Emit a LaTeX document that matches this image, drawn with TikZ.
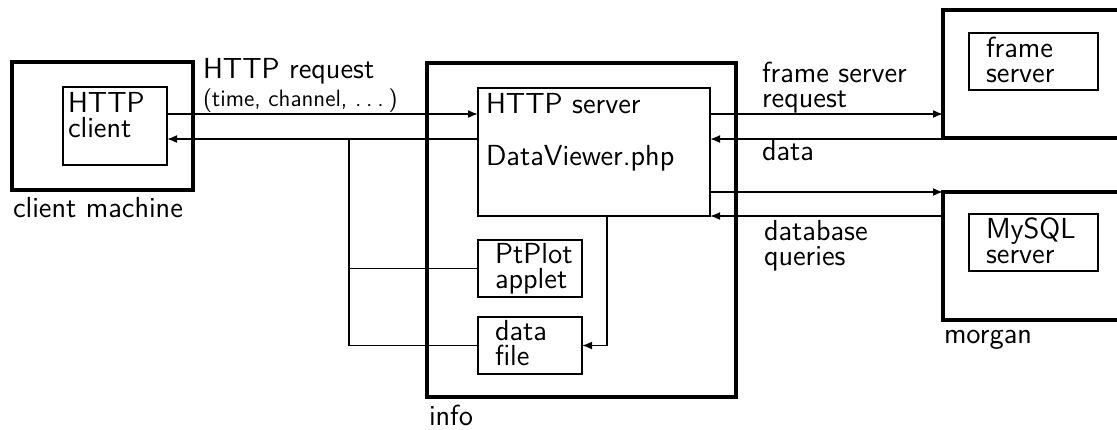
\documentclass[tikz,border=0pt]{standalone}
\usepackage{fontspec}
\usetikzlibrary{arrows.meta}
\begin{document}
\begin{tikzpicture}[x=0.5pt,y=-0.5pt,
  outerbox/.style={draw, line width=2pt, inner sep=0pt, outer sep=0pt, anchor=north west},
  innerbox/.style={draw, line width=0.85pt, inner sep=0pt, outer sep=0pt, anchor=north west},
  txt/.style={inner sep=0pt, outer sep=0pt, anchor=base west, font=\sffamily\fontsize{14.5}{12.5}\selectfont},
  mtxt/.style={inner sep=0pt, outer sep=0pt, anchor=north west, align=left, font=\sffamily\fontsize{14.5}{12.5}\selectfont},
  smalltxt/.style={txt, font=\sffamily\fontsize{11.8}{13}\selectfont},
  conn/.style={line width=0.85pt},
  arr/.style={conn, -{Latex[length=5pt,width=4pt]}}]
\useasboundingbox (0,0) rectangle (1117,429);
\clip (0,0) rectangle (1117,429);

% boxes
\node[outerbox, minimum width=90.5pt, minimum height=64pt] (cm) at (12,62) {};
\node[innerbox, minimum width=52pt, minimum height=39pt] (hc) at (63,87) {};
\node[outerbox, minimum width=154.5pt, minimum height=167pt] (info) at (427,63) {};
\node[innerbox, minimum width=116pt, minimum height=64pt] (srv) at (478,88) {};
\node[innerbox, minimum width=52pt, minimum height=28.5pt] (pp) at (478,240) {};
\node[innerbox, minimum width=52pt, minimum height=28.5pt] (df) at (478,317) {};
\node[outerbox, minimum width=100pt, minimum height=64pt] (fsm) at (943,10) {};
\node[innerbox, minimum width=64.5pt, minimum height=28.5pt] (fs) at (969,33) {};
\node[outerbox, minimum width=100pt, minimum height=64pt] (mg) at (943,192) {};
\node[innerbox, minimum width=64.5pt, minimum height=28.5pt] (sql) at (969,214) {};

% texts
\node[mtxt] (thc) at (68,91.9) {HTTP\\client};
\node[txt] (tcm) at (13,217) {client machine};
\node[txt] (treq) at (203,78) {HTTP request};
\node[smalltxt] (treq2) at (203,106) {(time, channel, .\kern.2em.\kern.2em.\kern.2em)};
\node[txt] (tsrv) at (486,113) {HTTP server};
\node[txt] (tdv) at (486,165) {DataViewer.php};
\node[mtxt] (tpp) at (495,242.9) {PtPlot\\applet};
\node[mtxt] (tdf) at (495,319.9) {data\\file};
\node[txt] (tinfo) at (429,425) {info};
\node[mtxt] (tfsr) at (762,61.9) {frame server\\request};
\node[txt] (tdata) at (762,160) {data};
\node[mtxt] (tdbq) at (764,219.9) {database\\queries};
\node[mtxt] (tfs) at (986,36.9) {frame\\server};
\node[mtxt] (tsql) at (986,217.9) {MySQL\\server};
\node[txt] (tmg) at (944,343) {morgan};

% level coordinates
\coordinate (yreq) at (0,114);
\coordinate (yret) at (0,139);
\coordinate (ydb) at (0,192);
\coordinate (xbus) at (349,0);
\coordinate (xdf) at (607,0);

% connectors
\draw[arr] (hc.east |- yreq) -- (srv.west |- yreq);
\draw[arr] (srv.west |- yret) -- (hc.east |- yret);
\draw[conn] (xbus |- yret) -- (xbus |- df.west) -- (df.west);
\draw[conn] (xbus |- pp.west) -- (pp.west);
\draw[arr] (srv.east |- yreq) -- (fsm.west |- yreq);
\draw[arr] (fsm.west |- yret) -- (srv.east |- yret);
\draw[arr] (srv.east |- ydb) -- (mg.west |- ydb);
\draw[arr] (mg.west |- srv.south) -- (srv.south east);
\draw[arr] (xdf |- srv.south) -- (xdf |- df.east) -- (df.east);
\end{tikzpicture}
\end{document}
